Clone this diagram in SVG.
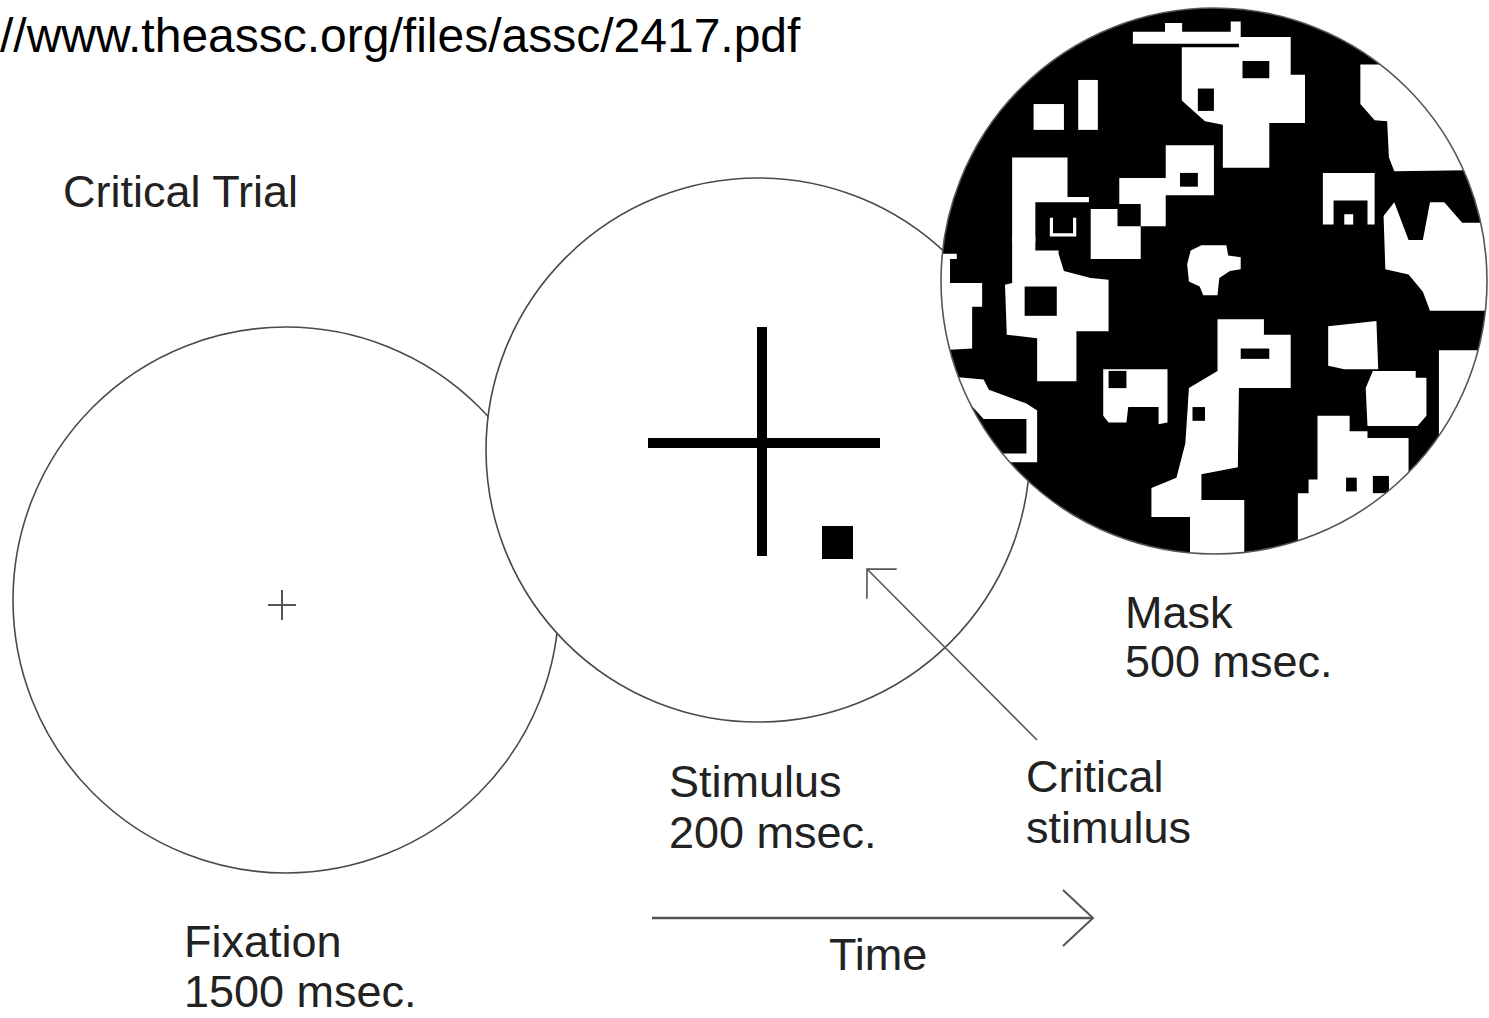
<svg xmlns="http://www.w3.org/2000/svg" width="1489" height="1018" viewBox="0 0 1489 1018">
<style>
  .ring { fill: #fff; stroke: #4a4a4a; stroke-width: 1.6; }
  .lbl { font-family: "Liberation Sans", Arial, sans-serif; font-size: 45px; fill: #222; }
  .url { font-family: "Liberation Sans", Arial, sans-serif; font-size: 48px; fill: #000; }
  .w { fill: #fff; }
  .k { fill: #000; }
  .conn { fill: none; stroke: #555; }
</style>
<defs>
  <clipPath id="maskClip"><circle cx="1214" cy="281" r="273"/></clipPath>
  <marker id="headS" markerUnits="userSpaceOnUse" viewBox="-50 -50 100 100" markerWidth="100" markerHeight="100" refX="0" refY="0" orient="auto" overflow="visible">
    <path d="M-21,-21 L0,0 L-21,21" fill="none" stroke="#555" stroke-width="1.6"/>
  </marker>
  <marker id="headL" markerUnits="userSpaceOnUse" viewBox="-50 -50 100 100" markerWidth="100" markerHeight="100" refX="0" refY="0" orient="auto" overflow="visible">
    <path d="M-30,-28 L0,0 L-30,28" fill="none" stroke="#555" stroke-width="2"/>
  </marker>
</defs>
<rect x="0" y="0" width="1489" height="1018" fill="#fff"/>

<text class="url" x="0" y="52">//www.theassc.org/files/assc/2417.pdf</text>
<text class="lbl" x="63" y="207">Critical Trial</text>

<g id="fixation">
  <circle class="ring" cx="286" cy="600" r="273"/>
  <path d="M268,605 H296 M282,590 V620" stroke="#555" stroke-width="2" fill="none"/>
  <text class="lbl" x="184" y="957">Fixation</text>
  <text class="lbl" x="184" y="1007">1500 msec.</text>
</g>

<g id="stimulus">
  <circle class="ring" cx="758" cy="450" r="272"/>
  <path d="M648,443 H880 M762,327 V556" stroke="#000" stroke-width="10" fill="none"/>
  <rect x="822" y="526" width="31" height="33" fill="#000"/>
  <text class="lbl" x="669" y="797">Stimulus</text>
  <text class="lbl" x="669" y="848">200 msec.</text>
</g>

<g id="mask">
  <circle cx="1214" cy="281" r="273" fill="#000"/>
  <g clip-path="url(#maskClip)">
    <g transform="translate(930,30) scale(0.35714,0.34435)">
      <polygon class="w" points="568,5 658,5 658,-20 706,-20 706,5 842,5 842,-25 870,-25 870,40 568,40"/>
      <polygon class="w" points="705,50 865,50 865,20 1010,20 1010,130 1050,130 1050,270 950,270 950,400 820,400 820,275 770,265 705,205"/>
      <rect class="k" x="750" y="170" width="45" height="65"/>
      <rect class="k" x="875" y="90" width="75" height="50"/>
      <rect class="w" x="290" y="215" width="85" height="75"/>
      <rect class="w" x="415" y="145" width="55" height="145"/>
      <polygon class="w" points="1205,100 1650,100 1650,405 1300,410 1285,370 1280,265 1245,262 1205,215"/>
      <polygon class="w" points="230,370 385,370 385,485 445,485 445,500 295,500 295,615 230,615"/>
      <path d="M340,545 V595 H405 V545" fill="none" stroke="#fff" stroke-width="9"/>
      <polygon class="w" points="450,520 525,520 525,570 590,570 590,665 450,665"/>
      <polygon class="w" points="530,430 660,430 660,335 795,335 795,480 660,480 660,570 590,570 590,505 530,505"/>
      <rect class="k" x="700" y="415" width="50" height="40"/>
      <polygon class="w" points="230,600 295,600 295,640 360,640 360,650 375,700 450,720 500,725 500,875 410,875 410,1020 300,1020 300,895 215,885 210,740 230,735"/>
      <rect class="k" x="265" y="745" width="90" height="85"/>
      <polygon class="w" points="-50,650 75,650 75,665 56,665 56,735 146,735 146,804 118,804 118,925 -50,935"/>
      <polygon class="w" points="40,1005 150,1015 165,1045 270,1085 300,1105 300,1255 205,1255 205,1230 270,1230 270,1130 150,1130 80,1050"/>
      <polygon class="w" points="730,640 760,625 830,625 835,655 870,660 870,695 840,700 810,720 805,770 765,770 755,745 725,730 720,680"/>
      <polygon class="w" points="1100,415 1245,415 1245,565 1225,565 1225,495 1130,495 1130,565 1100,565"/>
      <rect class="w" x="1160" y="535" width="25" height="30"/>
      <polygon class="w" points="1270,540 1300,500 1340,610 1380,610 1400,500 1440,500 1490,560 1650,560 1650,815 1400,815 1380,760 1340,710 1275,695"/>
      <polygon class="w" points="1115,860 1250,845 1255,985 1160,985 1115,975"/>
      <polygon class="w" points="1425,930 1650,930 1650,1300 1425,1300"/>
      <polygon class="w" points="1240,990 1360,990 1360,1010 1390,1010 1390,1120 1365,1150 1225,1150 1220,1040"/>
      <polygon class="w" points="1085,1120 1175,1120 1175,1165 1225,1165 1225,1185 1340,1185 1340,1500 1030,1500 1030,1345 1060,1345 1060,1305 1085,1305"/>
      <rect class="k" x="1165" y="1300" width="30" height="40"/>
      <rect class="k" x="1240" y="1295" width="45" height="50"/>
      <polygon class="w" points="805,840 935,840 935,885 1010,885 1010,1040 865,1040 862,1270 760,1290 760,1365 880,1365 880,1600 728,1600 728,1414 620,1414 620,1330 690,1300 715,1200 725,1040 805,990"/>
      <rect class="k" x="870" y="925" width="80" height="30"/>
      <rect class="k" x="735" y="1095" width="35" height="40"/>
      <polygon class="w" points="485,985 665,985 665,1140 640,1145 640,1095 555,1095 550,1140 500,1140 485,1120"/>
      <rect class="k" x="500" y="990" width="50" height="50"/>
    </g>
  </g>
  <circle cx="1214" cy="281" r="273" fill="none" stroke="#555" stroke-width="1.6"/>
  <text class="lbl" x="1125" y="628">Mask</text>
  <text class="lbl" x="1125" y="677">500 msec.</text>
</g>

<g id="critical-label">
  <text class="lbl" x="1026" y="792">Critical</text>
  <text class="lbl" x="1026" y="843">stimulus</text>
</g>

<g id="time-label">
  <text class="lbl" x="829" y="970">Time</text>
</g>

<g id="connectors">
  <line class="conn" x1="1037" y1="740" x2="867" y2="569" stroke-width="1.6" marker-end="url(#headS)"/>
  <line class="conn" x1="652" y1="918" x2="1093" y2="918" stroke-width="2.5" marker-end="url(#headL)"/>
</g>
</svg>
